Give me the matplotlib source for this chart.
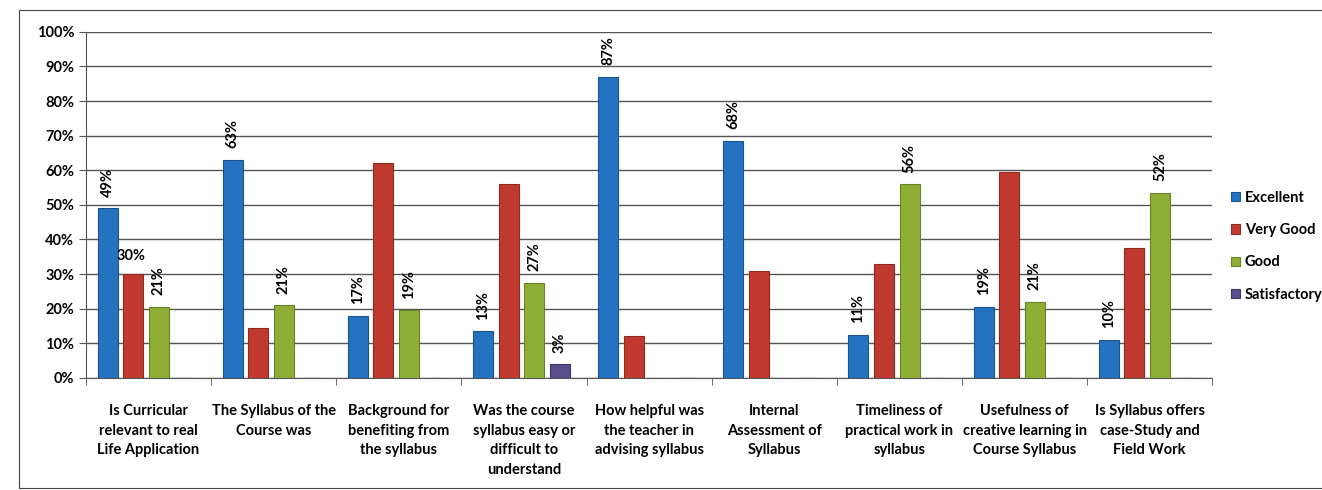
import numpy as np
import matplotlib
matplotlib.use("Agg")
import matplotlib.pyplot as plt
from matplotlib.patches import Rectangle

plt.rcParams['font.family'] = ['Lato', 'DejaVu Sans']

categories = [
    "Is Curricular\nrelevant to real\nLife Application",
    "The Syllabus of the\nCourse was",
    "Background for\nbenefiting from\nthe syllabus",
    "Was the course\nsyllabus easy or\ndifficult to\nunderstand",
    "How helpful was\nthe teacher in\nadvising syllabus",
    "Internal\nAssessment of\nSyllabus",
    "Timeliness of\npractical work in\nsyllabus",
    "Usefulness of\ncreative learning in\nCourse Syllabus",
    "Is Syllabus offers\ncase-Study and\nField Work",
]
series = ["Excellent", "Very Good", "Good", "Satisfactory"]

excellent = [49, 63, 18, 13.5, 87, 68.5, 12.5, 20.5, 11]
very_good = [30, 14.5, 62, 56, 12, 31, 33, 59.5, 37.5]
good = [20.5, 21, 19.5, 27.5, 0, 0, 56, 22, 53.5]
satisfactory = [0, 0, 0, 4, 0, 0, 0, 0, 0]

# printed data labels (empty where the chart shows none)
excellent_labels = ["49%", "63%", "17%", "13%", "87%", "68%", "11%", "19%", "10%"]
very_good_labels = ["30%", "", "", "", "", "", "", "", ""]
good_labels = ["21%", "21%", "19%", "27%", "", "", "56%", "21%", "52%"]
satisfactory_labels = ["", "", "", "3%", "", "", "", "", ""]

colors = ["#2472c0", "#c0392e", "#8fae35", "#5b4f8c"]
edges = ["#1a5591", "#8e2a20", "#6a8226", "#3f3666"]

fig = plt.figure(figsize=(13.22, 4.9), dpi=100)
ax = fig.add_axes([0.065, 0.229, 0.852, 0.706])

x = np.arange(len(categories))
slot = 0.205
width = 0.16
offsets = [-1.5 * slot, -0.5 * slot, 0.5 * slot, 1.5 * slot]
all_vals = [excellent, very_good, good, satisfactory]
all_labels = [excellent_labels, very_good_labels, good_labels, satisfactory_labels]

for i, (name, vals) in enumerate(zip(series, all_vals)):
    ax.bar(x + offsets[i] - 0.02, vals, width, color=colors[i], edgecolor=edges[i],
           linewidth=0.8, label=name, zorder=3)
    for j, lab in enumerate(all_labels[i]):
        if not lab:
            continue
        if i == 1:
            ax.text(x[j] + offsets[i] - 0.035, vals[j] + 3.3, lab, ha='center', va='bottom',
                    fontsize=10.5, fontweight='bold', zorder=4)
        else:
            ax.text(x[j] + offsets[i] - 0.02, vals[j] + 3.3, lab, ha='center', va='bottom',
                    rotation=90, fontsize=10.5, fontweight='bold', zorder=4)

ax.set_xlim(-0.5, len(categories) - 0.5)
ax.set_ylim(0, 100)
ax.set_yticks(np.arange(0, 101, 10))
ax.set_yticklabels([f"{v}%" for v in range(0, 101, 10)], fontsize=10.5, fontweight='bold')
ax.set_xticks(x)
ax.set_xticklabels(categories, fontsize=10.5, fontweight='bold', linespacing=1.5)
ax.set_xticks(np.arange(-0.5, len(categories), 1), minor=True)
ax.tick_params(axis='x', which='major', length=0, pad=19)
ax.tick_params(axis='x', which='minor', length=5, color='#555555')
ax.tick_params(axis='y', length=5, color='#555555')
for lab in ax.get_xticklabels():
    lab.set_verticalalignment('top')

ax.yaxis.grid(True, color='#555555', linewidth=1.0, zorder=0)
ax.set_axisbelow(True)
for s in ['top', 'right']:
    ax.spines[s].set_visible(False)
ax.spines['left'].set_color('#555555')
ax.spines['bottom'].set_color('#555555')

leg = ax.legend(loc='center left', bbox_to_anchor=(1.005, 0.38), frameon=False,
                handlelength=0.6, handleheight=0.6, handletextpad=0.35,
                labelspacing=1.25, prop={'weight': 'bold', 'size': 10.5})

# outer chart frame
fig.patches.append(Rectangle((0.014, 0.005), 0.99, 0.975, transform=fig.transFigure,
                             fill=False, edgecolor='#444444', linewidth=0.8))

fig.savefig("out.png", dpi=100, facecolor='white')
